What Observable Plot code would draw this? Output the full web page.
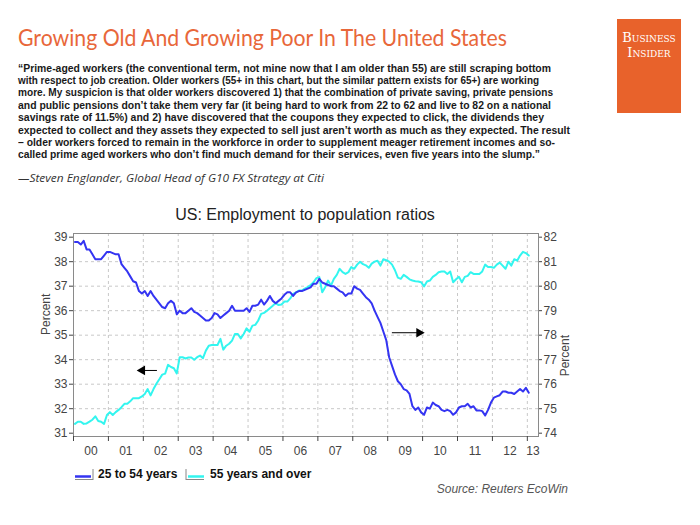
<!DOCTYPE html>
<html><head><meta charset="utf-8">
<script src="https://cdn.jsdelivr.net/npm/d3@7"></script>
<script src="https://cdn.jsdelivr.net/npm/@observablehq/plot@0.6"></script>
<style>
html,body{margin:0;padding:0;background:#fff;width:700px;height:525px;overflow:hidden;position:relative;}
.abs{position:absolute;white-space:nowrap;transform-origin:0 50%;}
#title{left:18px;top:24px;font-family:Lato,"Open Sans",sans-serif;font-size:23px;color:#E8673A;line-height:26px;}
#logo{position:absolute;left:617px;top:19px;width:64px;height:94px;background:#E8622B;}
#logo div{position:absolute;left:0;width:64px;text-align:center;color:#fff;font-family:"DejaVu Serif","Liberation Serif",serif;font-variant:small-caps;font-size:13px;letter-spacing:0px;line-height:14px;}
.q{left:18px;font-family:"Liberation Sans",Arial,sans-serif;font-weight:700;font-size:11px;color:#1a1a1a;line-height:12.3px;}
#attr{left:18px;top:171px;font-family:"Open Sans",Lato,sans-serif;font-style:italic;font-size:11.5px;color:#333;line-height:14px;}
#ctitle{left:0;width:610px;text-align:center;top:206px;font-family:"Liberation Sans",Arial,sans-serif;font-size:16px;color:#222;}
.leg{top:467px;font-family:"Liberation Sans",Arial,sans-serif;font-weight:bold;font-size:12px;color:#111;line-height:14px;}
#source{top:482px;left:0;width:568px;text-align:right;font-family:"Liberation Sans",Arial,sans-serif;font-style:italic;font-size:12px;color:#555;}
#chart{position:absolute;left:0;top:225px;}
</style></head>
<body>
<div id="title" class="abs">Growing Old And Growing Poor In The United States</div>
<div id="logo"><div style="top:12px">Business</div><div style="top:27px">Insider</div></div>
<div id="quote"></div>
<div id="attr" class="abs">—Steven Englander, Global Head of G10 FX Strategy at Citi</div>
<div id="ctitle" class="abs">US: Employment to population ratios</div>
<div id="chart"></div>
<div id="legend"></div>
<div id="source" class="abs">Source: Reuters EcoWin</div>
<script>
// ---- Text ----
const quoteLines = [
  "“Prime-aged workers (the conventional term, not mine now that I am older than 55) are still scraping bottom",
  "with respect to job creation. Older workers (55+ in this chart, but the similar pattern exists for 65+) are working",
  "more. My suspicion is that older workers discovered 1) that the combination of private saving, private pensions",
  "and public pensions don’t take them very far (it being hard to work from 22 to 62 and live to 82 on a national",
  "savings rate of 11.5%) and 2) have discovered that the coupons they expected to click, the dividends they",
  "expected to collect and they assets they expected to sell just aren’t worth as much as they expected. The result",
  "– older workers forced to remain in the workforce in order to supplement meager retirement incomes and so-",
  "called prime aged workers who don’t find much demand for their services, even five years into the slump.”"
];
const seriesNames = ["25 to 54 years", "55 years and over"];

// ---- Data (monthly, Jan 2000 - Jan 2013) ----
const startYear = 2000;
// 25 to 54 years, % (right axis)
const prime = [
81.8,81.8,81.7,81.85,81.5,81.5,81.3,81.1,81.1,81.1,81.25,81.4,
81.4,81.35,81.3,81.3,80.9,80.75,80.6,80.4,80.2,80.15,79.8,79.7,
79.8,79.6,79.8,79.6,79.45,79.3,79.15,79.1,79.3,79.4,79.3,78.85,
79.0,78.9,78.9,79.0,79.1,78.95,78.9,78.8,78.7,78.6,78.6,78.7,
78.9,78.85,78.7,78.8,78.9,79.0,79.2,79.0,79.0,79.0,79.0,79.1,
78.95,79.2,79.2,79.25,79.45,79.25,79.4,79.6,79.4,79.3,79.4,79.5,
79.65,79.75,79.75,79.6,79.75,79.8,79.8,79.85,79.9,79.95,80.1,80.1,
80.3,80.15,80.1,80.05,80.0,80.0,79.9,79.8,79.75,79.6,79.7,79.7,
80.0,79.9,79.85,79.7,79.55,79.45,79.3,79.0,78.75,78.5,78.15,77.8,
77.1,76.75,76.4,76.12,76.0,75.8,75.75,75.6,75.1,74.95,75.05,74.85,
74.75,75.05,75.0,75.25,75.15,75.1,74.95,74.9,74.95,74.9,74.75,74.85,
75.05,75.1,75.1,75.2,75.05,75.1,74.93,74.93,74.9,74.72,74.95,75.25,
75.45,75.5,75.55,75.7,75.7,75.65,75.65,75.6,75.7,75.8,75.7,75.85,
75.65];
// 55 years and over, % (left axis)
const older = [
31.38,31.47,31.47,31.38,31.4,31.47,31.55,31.69,31.5,31.47,31.38,31.74,
31.86,31.74,31.86,31.95,32.06,32.2,32.2,32.3,32.43,32.43,32.43,32.5,
32.6,32.8,32.54,32.8,33.02,33.2,33.39,33.43,33.79,33.7,33.65,33.44,
34.1,34.1,34.05,34.09,34.09,34.0,34.1,34.17,34.06,34.37,34.57,34.6,
34.6,34.6,34.85,34.41,34.57,34.65,34.78,35.05,35.05,34.87,35.05,35.28,
35.14,35.39,35.42,35.6,35.87,35.91,36.0,36.1,36.2,36.31,36.23,36.25,
36.37,36.37,36.5,36.69,36.75,36.82,36.82,36.9,36.96,37.05,37.16,37.33,
37.37,36.75,36.96,37.23,37.02,37.3,37.46,37.71,37.57,37.5,37.57,37.78,
37.71,37.88,38.0,37.9,37.85,37.75,37.92,38.0,38.04,37.84,38.1,38.06,
38.0,37.88,37.65,37.35,37.3,37.46,37.38,37.28,37.23,37.2,37.19,37.16,
36.99,37.19,37.23,37.38,37.46,37.57,37.6,37.6,37.5,37.6,37.16,37.28,
37.38,37.16,37.38,37.42,37.57,37.5,37.5,37.5,37.6,37.88,37.78,37.78,
37.75,37.88,37.96,37.84,37.71,38.0,37.84,38.1,38.04,38.25,38.4,38.35,
38.25];

const leftTicks = [31,32,33,34,35,36,37,38,39];
const rightTicks = [74,75,76,77,78,79,80,81,82];
const axisOffset = 43; // right axis value = left axis value + 43
const yearTicks = d3.range(2000, 2014);
const xLabels = ["00","01","02","03","04","05","06","07","08","09","10","11","12","13"];
const xMax = 2013.32;

// arrow annotations: [x1, x2, yLeftUnits]
const arrowLeft = {x1: 2002.39, x2: 2001.89, y: 33.56};
const arrowRight = {x1: 2009.12, x2: 2009.98, y: 78.1 - axisOffset};

// ---- Build text ----
const qd = document.getElementById("quote");
quoteLines.forEach((t, i) => {
  const d = document.createElement("div");
  d.className = "abs q";
  d.style.top = (61.5 + i * 12.4) + "px";
  d.textContent = t;
  qd.appendChild(d);
});
const qTargets = [533, 521, 535, 533, 526, 552, 537, 522];
function fit(el, w) {
  const r = el.getBoundingClientRect().width;
  el.style.transform = `scaleX(${w / r})`;
}
[...qd.children].forEach((el, i) => fit(el, qTargets[i]));
fit(document.getElementById("title"), 489);
fit(document.getElementById("attr"), 306);

// ---- Chart ----
const blue = "#3434F2", cyan = "#33F5EF";
const rowsPrime = prime.map((v, i) => ({date: startYear + (i + 0.5) / 12, v: v - axisOffset}));
const rowsOlder = older.map((v, i) => ({date: startYear + (i + 0.5) / 12, v}));
const labelPos = xLabels.map((s, i) => i < xLabels.length - 1 ? startYear + i + 0.5 : (startYear + i + xMax) / 2);

const W = 700, H = 245;
const chart = Plot.plot({
  width: W, height: H,
  marginLeft: 73, marginRight: 162, marginTop: 8, marginBottom: 34,
  style: {fontFamily: "'Liberation Sans', Arial, sans-serif", fontSize: "12px", color: "#444", background: "transparent"},
  x: {domain: [2000, xMax]},
  y: {domain: [30.865, 39.15]},
  marks: [
    Plot.ruleX(yearTicks.slice(1), {stroke: "#c8c8c8", strokeDasharray: "3,3"}),
    Plot.ruleY(leftTicks.slice(1, -1), {stroke: "#c8c8c8", strokeDasharray: "3,3"}),
    Plot.frame({stroke: "#8a8a8a"}),
    Plot.axisY({ticks: leftTicks, anchor: "left", tickSize: 4, tickPadding: 2, label: null, tickFormat: d => String(d)}),
    Plot.axisY({ticks: rightTicks.map(d => d - axisOffset), anchor: "right", tickSize: 3, tickPadding: 2, label: null,
      tickFormat: d => String(Math.round(d + axisOffset))}),
    Plot.axisX({ticks: yearTicks, tickSize: 5, tickFormat: () => "", label: null}),
    Plot.axisX({ticks: labelPos, tickSize: 0, tickPadding: 10, label: null, tickFormat: (d, i) => xLabels[i]}),
    Plot.text(["Percent"], {frameAnchor: "left", dx: -27, rotate: -90, fontSize: 12, fill: "#444"}),
    Plot.text(["Percent"], {frameAnchor: "right", dx: 27, rotate: -90, fontSize: 12, fill: "#444"}),
    Plot.line(rowsOlder, {x: "date", y: "v", stroke: cyan, strokeWidth: 2}),
    Plot.line(rowsPrime, {x: "date", y: "v", stroke: blue, strokeWidth: 2}),
    Plot.link([arrowLeft, arrowRight], {x1: "x1", x2: "x2", y1: "y", y2: "y", stroke: "#000", strokeWidth: 1}),
    Plot.dot([arrowLeft], {x: d => d.x2 + 0.08, y: "y", symbol: "triangle", r: 3.6, fill: "#000", stroke: "none", rotate: -90}),
    Plot.dot([arrowRight], {x: d => d.x2 - 0.08, y: "y", symbol: "triangle", r: 3.6, fill: "#000", stroke: "none", rotate: 90})
  ]
});
document.getElementById("chart").appendChild(chart);

// ---- Legend ----
const lg = document.getElementById("legend");
const legItems = [
  {name: seriesNames[0], color: blue, sx: 74, tx: 98, bracket: "right"},
  {name: seriesNames[1], color: cyan, sx: 185, tx: 210, bracket: "left"}
];
legItems.forEach(it => {
  const s = document.createElementNS("http://www.w3.org/2000/svg", "svg");
  s.setAttribute("width", 22); s.setAttribute("height", 14);
  s.style.position = "absolute"; s.style.left = it.sx + "px"; s.style.top = "467px";
  const bx = it.bracket === "right" ? 19 : 1;
  s.innerHTML = `<line x1="1" x2="19" y1="12.5" y2="12.5" stroke="#888" stroke-width="1"/>
    <line x1="${bx}" x2="${bx}" y1="2" y2="13" stroke="#888" stroke-width="1"/>
    <line x1="${it.bracket === "right" ? 1 : 3}" x2="${it.bracket === "right" ? 17 : 19}" y1="9.5" y2="9.5" stroke="${it.color}" stroke-width="2.5"/>`;
  lg.appendChild(s);
  const t = document.createElement("div");
  t.className = "abs leg";
  t.style.left = it.tx + "px";
  t.textContent = it.name;
  lg.appendChild(t);
});
</script>
</body></html>
